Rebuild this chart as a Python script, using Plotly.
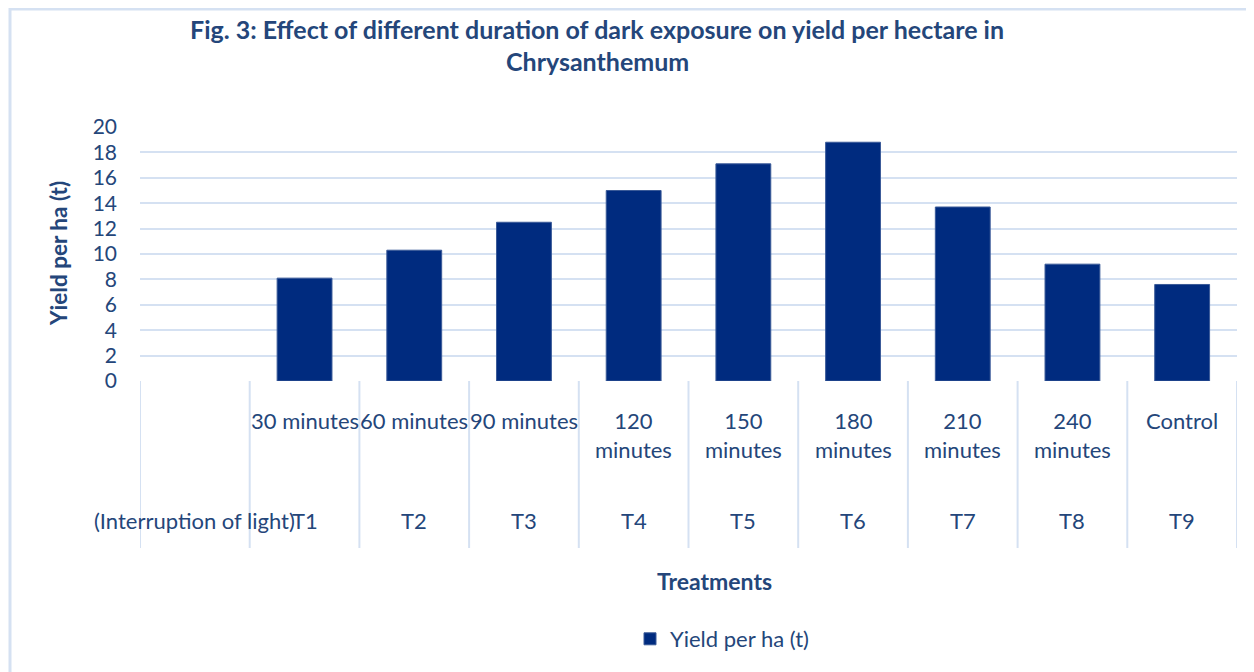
import plotly.graph_objects as go

# categories (outer level = treatment code, inner level = dark exposure duration)
outer_labels = ["(Interruption of light)", "T1", "T2", "T3", "T4", "T5", "T6", "T7", "T8", "T9"]
inner_labels = ["", "30 minutes", "60 minutes", "90 minutes", "120 minutes", "150 minutes",
                "180 minutes", "210 minutes", "240 minutes", "Control"]
yield_t = [None, 8.1, 10.3, 12.5, 15.0, 17.1, 18.8, 13.7, 9.2, 7.6]

series_name = "Yield per ha (t)"
title_lines = ["Fig. 3: Effect of different duration of dark exposure on yield per hectare in",
               "Chrysanthemum"]

# page body has an 8px margin, so the figure is drawn 8px in from the top-left
OFF = 8
PAGE_W, PAGE_H = 1254, 672
W, H = PAGE_W - OFF, PAGE_H - OFF
# plot area in page pixels
L, R, T, B = 140, 1237, 127, 381

BAR = "#002b7f"
GRID = "#d5e1f2"
TXT = "#24467a"
FONT = "Lato"


def px(x):
    return (x - L) / (R - L)


def py(y):
    return (B - y) / (B - T)


def wrap(s):
    # long labels wrap onto two lines like Excel does
    return s.replace(" ", "<br>") if len(s) > 10 else s


fig = go.Figure()
fig.add_trace(go.Bar(
    x=outer_labels,
    y=yield_t,
    name=series_name,
    marker=dict(color=BAR, line=dict(color="#3a5a98", width=1)),
    width=0.5,
    showlegend=True,
))

annotations = []
for cat, lab in zip(outer_labels, inner_labels):
    if lab:
        annotations.append(dict(x=cat, xref="x", y=py(405), yref="paper", yanchor="top",
                                text=wrap(lab), showarrow=False,
                                font=dict(size=22, color=TXT, family=FONT)))
    annotations.append(dict(x=cat, xref="x", y=py(520), yref="paper", yanchor="middle",
                            text=cat, showarrow=False,
                            font=dict(size=22, color=TXT, family=FONT)))

for line, yc in zip(title_lines, [29, 61]):
    annotations.append(dict(x=px(597), xref="paper", y=py(yc), yref="paper",
                            xanchor="center", yanchor="middle",
                            text="<b>" + line + "</b>", showarrow=False,
                            font=dict(size=25, color=TXT, family=FONT)))

annotations.append(dict(x=px(58), xref="paper", y=0.5, yref="paper", textangle=-90,
                        xanchor="center", yanchor="middle",
                        text="<b>Yield per ha (t)</b>", showarrow=False,
                        font=dict(size=22.5, color=TXT, family=FONT)))
annotations.append(dict(x=px(714), xref="paper", y=py(581), yref="paper",
                        xanchor="center", yanchor="middle",
                        text="<b>Treatments</b>", showarrow=False,
                        font=dict(size=23, color=TXT, family=FONT)))

shapes = []
for i in range(len(outer_labels) + 1):
    shapes.append(dict(type="line", xref="x", yref="paper", x0=i - 0.5, x1=i - 0.5,
                       y0=0, y1=py(548), line=dict(color=GRID, width=2)))
# chart frame
shapes.append(dict(type="rect", xref="paper", yref="paper",
                   x0=px(10), x1=px(1262), y0=py(680), y1=py(9),
                   line=dict(color=GRID, width=3)))

fig.update_layout(
    width=W, height=H,
    margin=dict(l=L - OFF, r=PAGE_W - R, t=T - OFF, b=PAGE_H - B),
    paper_bgcolor="white", plot_bgcolor="white",
    xaxis=dict(type="category", range=[-0.5, len(outer_labels) - 0.5],
               showticklabels=False, showgrid=False, zeroline=False,
               showline=False),
    yaxis=dict(range=[0, 20], dtick=2, showgrid=True, gridcolor=GRID, gridwidth=2,
               zeroline=False, showline=False, ticklabelstandoff=22,
               tickfont=dict(size=21, color=TXT, family=FONT)),
    legend=dict(orientation="h", x=px(630), y=py(639), xanchor="left", yanchor="middle",
                font=dict(size=22, color=TXT, family=FONT)),
    annotations=annotations,
    shapes=shapes,
    font=dict(family=FONT, color=TXT),
)

fig.write_html("out.html")
